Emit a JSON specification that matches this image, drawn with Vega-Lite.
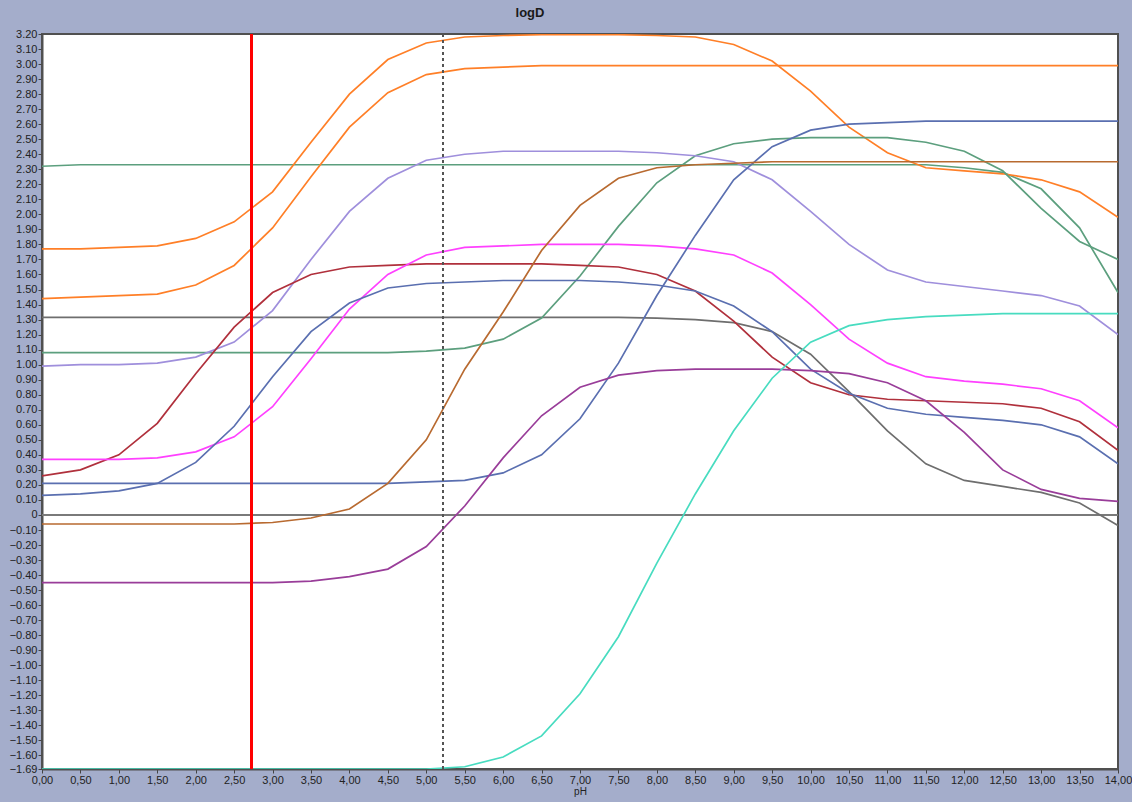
{
  "$schema": "https://vega.github.io/schema/vega-lite/v6.json",
  "width": 1076,
  "height": 735,
  "autosize": {"type": "none"},
  "padding": {"left": 42, "top": 34, "right": 14, "bottom": 33},
  "background": "#a4adcb",
  "title": {"text": "logD", "fontSize": 13, "fontWeight": "bold", "color": "#1a1a1a", "font": "Liberation Sans", "anchor": "middle", "dx": -50, "offset": 8},
  "config": {
    "view": {"fill": "#ffffff", "stroke": "#505050", "strokeWidth": 2},
    "axis": {"labelFont": "Liberation Sans", "titleFont": "Liberation Sans", "labelColor": "#222222", "tickColor": "#444444", "domainColor": "#505050", "grid": false, "labelOverlap": false, "labelFlush": false}
  },
  "data": {"values": [
    {"pH": 0, "o1": 1.77, "o2": 1.44, "g1": 2.32, "g2": 1.08, "lav": 0.99, "dred": 0.26, "mag": 0.37, "b1": 0.13, "b2": 0.21, "grey": 1.315, "brown": -0.06, "purp": -0.45, "turq": -1.69},
    {"pH": 0.5, "o1": 1.77, "o2": 1.45, "g1": 2.33, "g2": 1.08, "lav": 1.00, "dred": 0.30, "mag": 0.37, "b1": 0.14, "b2": 0.21, "grey": 1.315, "brown": -0.06, "purp": -0.45, "turq": -1.69},
    {"pH": 1, "o1": 1.78, "o2": 1.46, "g1": 2.33, "g2": 1.08, "lav": 1.00, "dred": 0.40, "mag": 0.37, "b1": 0.16, "b2": 0.21, "grey": 1.315, "brown": -0.06, "purp": -0.45, "turq": -1.69},
    {"pH": 1.5, "o1": 1.79, "o2": 1.47, "g1": 2.33, "g2": 1.08, "lav": 1.01, "dred": 0.61, "mag": 0.38, "b1": 0.21, "b2": 0.21, "grey": 1.315, "brown": -0.06, "purp": -0.45, "turq": -1.69},
    {"pH": 2, "o1": 1.84, "o2": 1.53, "g1": 2.33, "g2": 1.08, "lav": 1.05, "dred": 0.94, "mag": 0.42, "b1": 0.35, "b2": 0.21, "grey": 1.315, "brown": -0.06, "purp": -0.45, "turq": -1.69},
    {"pH": 2.5, "o1": 1.95, "o2": 1.66, "g1": 2.33, "g2": 1.08, "lav": 1.15, "dred": 1.25, "mag": 0.52, "b1": 0.59, "b2": 0.21, "grey": 1.315, "brown": -0.06, "purp": -0.45, "turq": -1.69},
    {"pH": 3, "o1": 2.15, "o2": 1.91, "g1": 2.33, "g2": 1.08, "lav": 1.36, "dred": 1.48, "mag": 0.72, "b1": 0.92, "b2": 0.21, "grey": 1.315, "brown": -0.05, "purp": -0.45, "turq": -1.69},
    {"pH": 3.5, "o1": 2.48, "o2": 2.25, "g1": 2.33, "g2": 1.08, "lav": 1.70, "dred": 1.60, "mag": 1.04, "b1": 1.22, "b2": 0.21, "grey": 1.315, "brown": -0.02, "purp": -0.44, "turq": -1.69},
    {"pH": 4, "o1": 2.80, "o2": 2.58, "g1": 2.33, "g2": 1.08, "lav": 2.02, "dred": 1.65, "mag": 1.37, "b1": 1.41, "b2": 0.21, "grey": 1.315, "brown": 0.04, "purp": -0.41, "turq": -1.69},
    {"pH": 4.5, "o1": 3.03, "o2": 2.81, "g1": 2.33, "g2": 1.08, "lav": 2.24, "dred": 1.66, "mag": 1.60, "b1": 1.51, "b2": 0.21, "grey": 1.315, "brown": 0.21, "purp": -0.36, "turq": -1.69},
    {"pH": 5, "o1": 3.14, "o2": 2.93, "g1": 2.33, "g2": 1.09, "lav": 2.36, "dred": 1.67, "mag": 1.73, "b1": 1.54, "b2": 0.22, "grey": 1.315, "brown": 0.50, "purp": -0.21, "turq": -1.69},
    {"pH": 5.5, "o1": 3.18, "o2": 2.97, "g1": 2.33, "g2": 1.11, "lav": 2.40, "dred": 1.67, "mag": 1.78, "b1": 1.55, "b2": 0.23, "grey": 1.315, "brown": 0.97, "purp": 0.06, "turq": -1.675},
    {"pH": 6, "o1": 3.19, "o2": 2.98, "g1": 2.33, "g2": 1.17, "lav": 2.42, "dred": 1.67, "mag": 1.79, "b1": 1.56, "b2": 0.28, "grey": 1.315, "brown": 1.35, "purp": 0.38, "turq": -1.61},
    {"pH": 6.5, "o1": 3.195, "o2": 2.99, "g1": 2.33, "g2": 1.31, "lav": 2.42, "dred": 1.67, "mag": 1.80, "b1": 1.56, "b2": 0.40, "grey": 1.315, "brown": 1.76, "purp": 0.66, "turq": -1.47},
    {"pH": 7, "o1": 3.195, "o2": 2.99, "g1": 2.33, "g2": 1.59, "lav": 2.42, "dred": 1.66, "mag": 1.80, "b1": 1.56, "b2": 0.64, "grey": 1.315, "brown": 2.06, "purp": 0.85, "turq": -1.19},
    {"pH": 7.5, "o1": 3.195, "o2": 2.99, "g1": 2.33, "g2": 1.92, "lav": 2.42, "dred": 1.65, "mag": 1.80, "b1": 1.55, "b2": 1.01, "grey": 1.315, "brown": 2.24, "purp": 0.93, "turq": -0.81},
    {"pH": 8, "o1": 3.19, "o2": 2.99, "g1": 2.33, "g2": 2.21, "lav": 2.41, "dred": 1.60, "mag": 1.79, "b1": 1.53, "b2": 1.46, "grey": 1.31, "brown": 2.31, "purp": 0.96, "turq": -0.32},
    {"pH": 8.5, "o1": 3.18, "o2": 2.99, "g1": 2.33, "g2": 2.39, "lav": 2.39, "dred": 1.49, "mag": 1.77, "b1": 1.49, "b2": 1.86, "grey": 1.30, "brown": 2.33, "purp": 0.97, "turq": 0.14},
    {"pH": 9, "o1": 3.13, "o2": 2.99, "g1": 2.33, "g2": 2.47, "lav": 2.35, "dred": 1.29, "mag": 1.73, "b1": 1.39, "b2": 2.23, "grey": 1.28, "brown": 2.34, "purp": 0.97, "turq": 0.56},
    {"pH": 9.5, "o1": 3.02, "o2": 2.99, "g1": 2.33, "g2": 2.50, "lav": 2.23, "dred": 1.05, "mag": 1.61, "b1": 1.22, "b2": 2.45, "grey": 1.22, "brown": 2.35, "purp": 0.97, "turq": 0.91},
    {"pH": 10, "o1": 2.82, "o2": 2.99, "g1": 2.33, "g2": 2.51, "lav": 2.02, "dred": 0.88, "mag": 1.40, "b1": 0.97, "b2": 2.56, "grey": 1.07, "brown": 2.35, "purp": 0.96, "turq": 1.15},
    {"pH": 10.5, "o1": 2.58, "o2": 2.99, "g1": 2.33, "g2": 2.51, "lav": 1.80, "dred": 0.80, "mag": 1.17, "b1": 0.81, "b2": 2.60, "grey": 0.82, "brown": 2.35, "purp": 0.94, "turq": 1.26},
    {"pH": 11, "o1": 2.41, "o2": 2.99, "g1": 2.33, "g2": 2.51, "lav": 1.63, "dred": 0.77, "mag": 1.01, "b1": 0.71, "b2": 2.61, "grey": 0.56, "brown": 2.35, "purp": 0.88, "turq": 1.30},
    {"pH": 11.5, "o1": 2.31, "o2": 2.99, "g1": 2.33, "g2": 2.48, "lav": 1.55, "dred": 0.76, "mag": 0.92, "b1": 0.67, "b2": 2.62, "grey": 0.34, "brown": 2.35, "purp": 0.76, "turq": 1.32},
    {"pH": 12, "o1": 2.29, "o2": 2.99, "g1": 2.31, "g2": 2.42, "lav": 1.52, "dred": 0.75, "mag": 0.89, "b1": 0.65, "b2": 2.62, "grey": 0.23, "brown": 2.35, "purp": 0.55, "turq": 1.33},
    {"pH": 12.5, "o1": 2.27, "o2": 2.99, "g1": 2.28, "g2": 2.29, "lav": 1.49, "dred": 0.74, "mag": 0.87, "b1": 0.63, "b2": 2.62, "grey": 0.19, "brown": 2.35, "purp": 0.30, "turq": 1.34},
    {"pH": 13, "o1": 2.23, "o2": 2.99, "g1": 2.17, "g2": 2.04, "lav": 1.46, "dred": 0.71, "mag": 0.84, "b1": 0.60, "b2": 2.62, "grey": 0.15, "brown": 2.35, "purp": 0.17, "turq": 1.34},
    {"pH": 13.5, "o1": 2.15, "o2": 2.99, "g1": 1.91, "g2": 1.82, "lav": 1.39, "dred": 0.62, "mag": 0.76, "b1": 0.52, "b2": 2.62, "grey": 0.08, "brown": 2.35, "purp": 0.11, "turq": 1.34},
    {"pH": 14, "o1": 1.98, "o2": 2.99, "g1": 1.48, "g2": 1.70, "lav": 1.20, "dred": 0.43, "mag": 0.58, "b1": 0.34, "b2": 2.62, "grey": -0.07, "brown": 2.35, "purp": 0.09, "turq": 1.34}
  ]},
  "layer": [
    {
      "mark": {"type": "rule", "color": "#7a7a7a", "strokeWidth": 2},
      "encoding": {"y": {"datum": 0, "type": "quantitative"}}
    },
    {
      "transform": [{"fold": ["g1", "grey", "o1", "o2", "g2", "lav", "dred", "mag", "b1", "b2", "brown", "purp", "turq"], "as": ["series", "logD"]}],
      "mark": {"type": "line", "strokeWidth": 1.7, "clip": true},
      "encoding": {
        "x": {"field": "pH", "type": "quantitative", "scale": {"domain": [0, 14], "nice": false, "zero": false},
          "axis": {"values": [0, 0.5, 1, 1.5, 2, 2.5, 3, 3.5, 4, 4.5, 5, 5.5, 6, 6.5, 7, 7.5, 8, 8.5, 9, 9.5, 10, 10.5, 11, 11.5, 12, 12.5, 13, 13.5, 14],
            "tickCount": 200, "labelOverlap": false, "labelBound": false, "labelFlush": false,
            "labelExpr": "replace(format(datum.value, '.2f'), '.', ',')", "labelFontSize": 11, "tickSize": 4, "domainWidth": 2, "labelPadding": 1,
            "title": "pH", "titleFontSize": 10, "titleFontWeight": "normal", "titleColor": "#222222", "titlePadding": 1}},
        "y": {"field": "logD", "type": "quantitative", "scale": {"domain": [-1.69, 3.2], "nice": false, "zero": false},
          "axis": {"values": [3.2, 3.1, 3.0, 2.9, 2.8, 2.7, 2.6, 2.5, 2.4, 2.3, 2.2, 2.1, 2.0, 1.9, 1.8, 1.7, 1.6, 1.5, 1.4, 1.3, 1.2, 1.1, 1.0, 0.9, 0.8, 0.7, 0.6, 0.5, 0.4, 0.3, 0.2, 0.1, 0, -0.1, -0.2, -0.3, -0.4, -0.5, -0.6, -0.7, -0.8, -0.9, -1.0, -1.1, -1.2, -1.3, -1.4, -1.5, -1.6, -1.69],
            "tickCount": 200, "labelOverlap": false, "labelBound": false, "labelFlush": false,
            "labelExpr": "datum.value == 0 ? '0' : format(datum.value, '.2f')", "labelFontSize": 11, "tickSize": 4, "domainWidth": 2, "labelPadding": 1, "title": null}},
        "color": {"field": "series", "type": "nominal", "legend": null,
          "scale": {"domain": ["o1", "o2", "g1", "g2", "lav", "dred", "mag", "b1", "b2", "grey", "brown", "purp", "turq"],
            "range": ["#ff7f27", "#ff7f27", "#5c9f7e", "#5c9f7e", "#9f8fdc", "#b0303c", "#ff40ff", "#5a6fb0", "#5a6fb0", "#6e6e6e", "#b86a30", "#993d99", "#48dcc0"]}},
        "detail": {"field": "series"}
      }
    },
    {
      "mark": {"type": "rule", "color": "#555555", "strokeWidth": 1, "strokeDash": [3, 3]},
      "encoding": {"x": {"datum": 5.22, "type": "quantitative"}}
    },
    {
      "mark": {"type": "rule", "color": "#ff0000", "strokeWidth": 2},
      "encoding": {"x": {"datum": 2.73, "type": "quantitative"}}
    }
  ]
}
